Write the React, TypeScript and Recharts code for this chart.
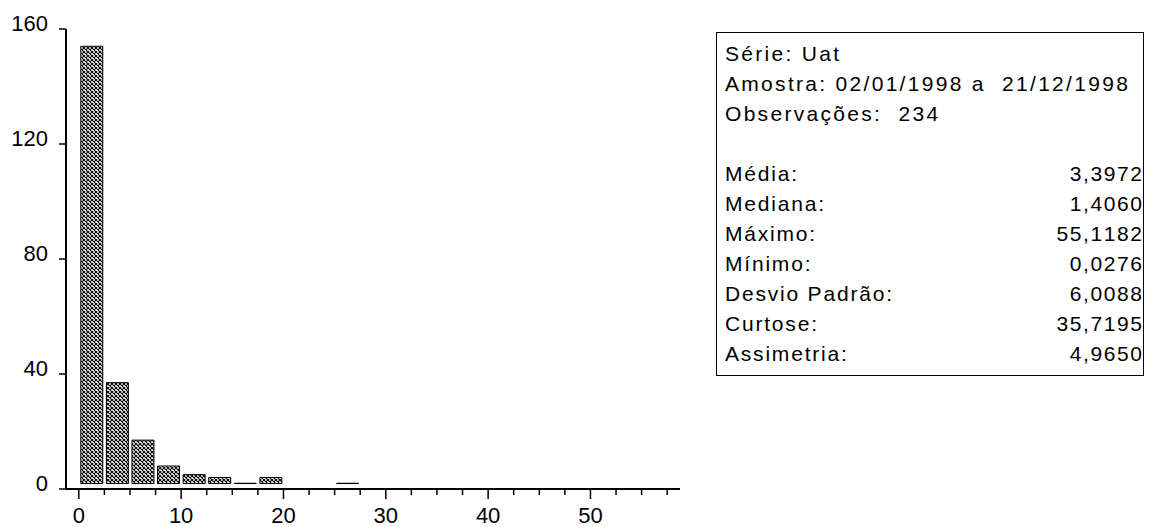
import React from 'react';
import { BarChart, Bar, XAxis, YAxis } from 'recharts';

// histogram bins of width 2.5 (centre of each bin) and counts
const binCenters = [
  1.25, 3.75, 6.25, 8.75, 11.25, 13.75, 16.25, 18.75, 21.25, 23.75, 26.25, 28.75,
  31.25, 33.75, 36.25, 38.75, 41.25, 43.75, 46.25, 48.75, 51.25, 53.75, 56.25,
];
const binCounts = [154, 37, 17, 8, 5, 4, 2, 4, 0, 0, 2, 0, 0, 0, 0, 0, 0, 0, 0, 0, 0, 0, 1];

const xTicks = [
  0, 2.5, 5, 7.5, 10, 12.5, 15, 17.5, 20, 22.5, 25, 27.5, 30, 32.5, 35, 37.5,
  40, 42.5, 45, 47.5, 50, 52.5, 55, 57.5,
];
const xLabels = [0, 10, 20, 30, 40, 50];
const yTicks = [0, 40, 80, 120, 160];

const headerLines = ['Série: Uat', 'Amostra: 02/01/1998 a  21/12/1998', 'Observações:  234'];
const statLabels = ['Média:', 'Mediana:', 'Máximo:', 'Mínimo:', 'Desvio Padrão:', 'Curtose:', 'Assimetria:'];
const statValues = ['3,3972', '1,4060', '55,1182', '0,0276', '6,0088', '35,7195', '4,9650'];

// EViews draws its bars from a little above zero
const BAR_BASE = 1.9;
const FONT = '"Liberation Sans", Arial, sans-serif';

const data = binCenters.map((x, i) => ({
  x,
  count: binCounts[i],
  range: [BAR_BASE, Math.max(binCounts[i], BAR_BASE)],
}));

const XTick = ({ x, y, payload }: any) => {
  const major = xLabels.includes(payload.value);
  return (
    <g>
      <line x1={x} x2={x} y1={y} y2={y + (major ? 10 : 6)} stroke="#000" strokeWidth={1.5} />
      {major && (
        <text x={x} y={y + 34} textAnchor="middle" fontSize={22} fill="#000" fontFamily={FONT}>
          {payload.value}
        </text>
      )}
    </g>
  );
};

const YTick = ({ x, y, payload }: any) => (
  <text x={x} y={y + 2} textAnchor="end" fontSize={22} fill="#000" fontFamily={FONT}>
    {payload.value}
  </text>
);

export default function App() {
  return (
    <div style={{ position: 'absolute', left: 0, top: 0, width: 1150, height: 527, background: '#fff', fontFamily: FONT }}>
      <BarChart width={700} height={527} data={data} margin={{ top: 29, right: 20, bottom: 0, left: 0 }}>
        <defs>
          <pattern id="hatch" patternUnits="userSpaceOnUse" width={4} height={4}>
            <rect width={4} height={4} fill="#fff" />
            <path d="M0,0 L4,4 M4,0 L0,4" stroke="#000" strokeWidth={1.1} />
          </pattern>
        </defs>
        <XAxis
          dataKey="x"
          type="number"
          domain={[-1.25, 58.75]}
          ticks={xTicks}
          interval={0}
          allowDataOverflow
          height={38}
          tickSize={0}
          tickMargin={0}
          tickLine={false}
          tick={<XTick />}
          axisLine={{ stroke: '#000', strokeWidth: 2 }}
        />
        <XAxis
          xAxisId="top"
          dataKey="x"
          type="number"
          orientation="top"
          domain={[-1.25, 58.75]}
          height={0}
          tick={false}
          tickLine={false}
          axisLine={{ stroke: '#000', strokeWidth: 2 }}
        />
        <YAxis
          type="number"
          domain={[0, 160]}
          ticks={yTicks}
          width={66}
          tickSize={7}
          tickMargin={11}
          tickLine={{ stroke: '#000', strokeWidth: 1.5 }}
          tick={<YTick />}
          axisLine={{ stroke: '#000', strokeWidth: 2 }}
        />
        <YAxis
          yAxisId="right"
          orientation="right"
          type="number"
          domain={[0, 160]}
          width={0}
          tick={false}
          tickLine={false}
          axisLine={{ stroke: '#000', strokeWidth: 2 }}
        />
        <Bar
          dataKey="range"
          barSize={22}
          fill="url(#hatch)"
          stroke="#000"
          strokeWidth={1}
          isAnimationActive={false}
        />
      </BarChart>
      <div
        style={{
          position: 'absolute',
          left: 716,
          top: 32,
          width: 428,
          height: 344,
          border: '1px solid #000',
          paddingTop: 6,
          boxSizing: 'border-box',
          fontSize: 21,
          letterSpacing: 1.8,
          lineHeight: '30px',
          color: '#000',
        }}
      >
        {headerLines.map((t) => (
          <div key={t} style={{ paddingLeft: 8, whiteSpace: 'pre', letterSpacing: 2.3 }}>{t}</div>
        ))}
        <div style={{ height: 30 }} />
        {statLabels.map((l, i) => (
          <div key={l} style={{ display: 'flex', justifyContent: 'space-between', paddingLeft: 8, paddingRight: 1 }}>
            <span>{l}</span>
            <span style={{ letterSpacing: 0, wordSpacing: 0 }}>
              {statValues[i].split('').map((c, k) => (
                <span key={k} style={{ marginLeft: k === 0 ? 0 : 1.6 }}>{c}</span>
              ))}
            </span>
          </div>
        ))}
      </div>
    </div>
  );
}
